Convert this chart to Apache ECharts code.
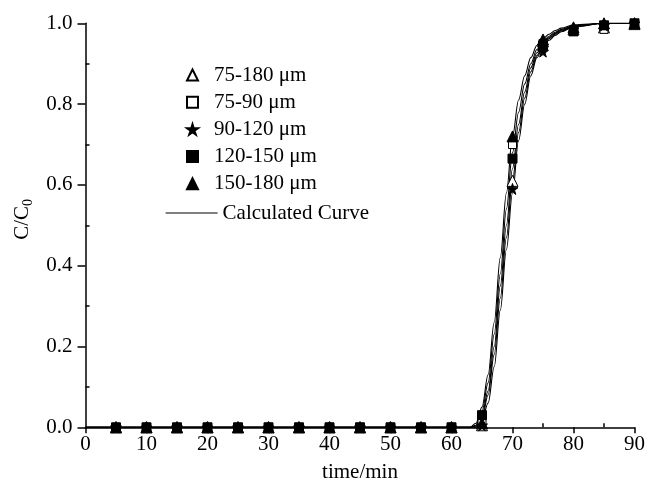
<!DOCTYPE html>
<html><head><meta charset="utf-8">
<script src="https://cdn.jsdelivr.net/npm/echarts@6/dist/echarts.min.js"></script>
<style>html,body{margin:0;padding:0;background:#fff}#c{width:648px;height:494px}</style>
</head><body><div id="c"></div>
<script>
const times = [5,10,15,20,25,30,35,40,45,50,55,60,65,70,75,80,85,90];
const names = ['75-180 \u03bcm','75-90 \u03bcm','90-120 \u03bcm','120-150 \u03bcm','150-180 \u03bcm'];
const s75_180  = [0,0,0,0,0,0,0,0,0,0,0,0,0.005,0.61,0.955,0.985,0.99,0.998];
const s75_90   = [0,0,0,0,0,0,0,0,0,0,0,0,0.01,0.70,0.95,0.98,0.985,0.998];
const s90_120  = [0,0,0,0,0,0,0,0,0,0,0,0,0.005,0.59,0.93,0.985,0.995,1.0];
const s120_150 = [0,0,0,0,0,0,0,0,0,0,0,0,0.03,0.665,0.945,0.98,0.995,1.0];
const s150_180 = [0,0,0,0,0,0,0,0,0,0,0,0,0.01,0.72,0.96,0.99,1.0,1.0];
const curveT = [0,63,64,65,66,67,68,69,70,71,72,73,74,75,76,77,78,80,85,90];
const curve1 = [0,0,0.01,0.05,0.13,0.26,0.42,0.58,0.72,0.81,0.87,0.915,0.945,0.962,0.973,0.982,0.988,0.996,1,1];
const curve2 = [0,0,0.005,0.04,0.11,0.23,0.38,0.54,0.68,0.78,0.85,0.90,0.935,0.955,0.968,0.978,0.985,0.994,1,1];
const curve3 = [0,0,0.003,0.03,0.09,0.20,0.35,0.50,0.64,0.75,0.83,0.89,0.927,0.950,0.965,0.975,0.983,0.993,1,1];
const curve4 = [0,0,0,0.02,0.08,0.18,0.32,0.47,0.61,0.73,0.815,0.88,0.92,0.945,0.962,0.973,0.981,0.992,1,1];
const curve5 = [0,0,0,0.015,0.06,0.15,0.29,0.44,0.58,0.71,0.80,0.87,0.915,0.940,0.958,0.970,0.979,0.991,1,1];
const xMinor = [5,15,25,35,45,55,65,75,85];
const yMinor = [0.1,0.3,0.5,0.7,0.9];

const FONT = 'Liberation Serif';
const starPath = 'path://M50,0 L61,35 L98,35 L68,57 L79,91 L50,70 L21,91 L32,57 L2,35 L39,35 Z';
const pair = (xs, ys) => xs.map((x,i)=>[x, ys[i]]);

const scatterDefs = [
  {data:s75_180, symbol:'triangle', fill:'#fff', size:11},
  {data:s75_90, symbol:'rect', fill:'#fff', size:8},
  {data:s90_120, symbol:starPath, fill:'#000', size:11},
  {data:s120_150, symbol:'rect', fill:'#000', size:9},
  {data:s150_180, symbol:'triangle', fill:'#000', size:11}
];
const curves = [curve1,curve2,curve3,curve4,curve5];

const series = [];
curves.forEach((c,i)=>{
  series.push({
    name: i===0 ? 'Calculated Curve' : 'curve'+i,
    type:'line', data: pair(curveT, c), smooth:0.35, smoothMonotone:'x', showSymbol:false, symbol:'none',
    lineStyle:{color:'#000', width:1.1}, itemStyle:{color:'#000'}, z:2, silent:true
  });
});
scatterDefs.forEach((d,i)=>{
  series.push({
    name: names[i], type:'scatter', data: pair(times, d.data),
    symbol: d.symbol, symbolSize: d.size,
    itemStyle:{color:d.fill, borderColor:'#000', borderWidth:1, opacity:1}, z:3+i
  });
});

const axisText = {fontFamily:FONT, fontSize:21, color:'#000'};
const chart = echarts.init(document.getElementById('c'));
chart.setOption({
  backgroundColor:'#fff',
  animation:false,
  grid:{left:85.5, right:10.5, top:23.3, bottom:66.7},
  legend:[{
    data: names.map(n=>({name:n})),
    orient:'vertical', left:181, top:59, itemGap:5.2, itemWidth:11, itemHeight:11,
    textStyle:{fontFamily:FONT, fontSize:21, lineHeight:22, color:'#000', padding:[0,0,0,11]},
    selectedMode:false
  },{
    data:[{name:'Calculated Curve', itemStyle:{opacity:0}}],
    orient:'vertical', left:160, top:197, itemWidth:52, itemHeight:14,
    lineStyle:{color:'#000', width:1.2},
    textStyle:{fontFamily:FONT, fontSize:21, lineHeight:22, color:'#000'},
    selectedMode:false
  }],
  xAxis:[{
    type:'value', min:0, max:90, interval:10,
    name:'time/min', nameLocation:'middle', nameGap:35,
    nameTextStyle:{fontFamily:FONT, fontSize:21, color:'#000'},
    axisLine:{lineStyle:{color:'#000', width:1.5}},
    axisTick:{show:true, inside:false, length:6, lineStyle:{color:'#000', width:1.5}},
    axisLabel:Object.assign({margin:7}, axisText),
    splitLine:{show:false}
  },{
    type:'value', min:0, max:90, position:'bottom',
    axisLine:{show:false},
    axisTick:{show:true, inside:true, length:4, customValues:xMinor, lineStyle:{color:'#000', width:1.5}},
    axisLabel:{show:false}, splitLine:{show:false}
  }],
  yAxis:[{
    type:'value', min:0, max:1, interval:0.2,
    name:'{a|C/C}{b|0}', nameLocation:'middle', nameGap:46, nameRotate:90,
    nameTextStyle:{fontFamily:FONT, fontSize:21, color:'#000', padding:[0,0,0,12],
      rich:{a:{fontFamily:FONT, fontSize:21, color:'#000'}, b:{fontFamily:FONT, fontSize:14, color:'#000', padding:[12,0,0,0]}}},
    axisLine:{lineStyle:{color:'#000', width:1.5}},
    axisTick:{show:true, inside:false, length:8, lineStyle:{color:'#000', width:1.5}},
    axisLabel:Object.assign({margin:13, formatter:v=>v.toFixed(1)}, axisText),
    splitLine:{show:false}
  },{
    type:'value', min:0, max:1, position:'left',
    axisLine:{show:false},
    axisTick:{show:true, inside:true, length:4, customValues:yMinor, lineStyle:{color:'#000', width:1.5}},
    axisLabel:{show:false}, splitLine:{show:false}
  }],
  series: series
});
</script></body></html>
